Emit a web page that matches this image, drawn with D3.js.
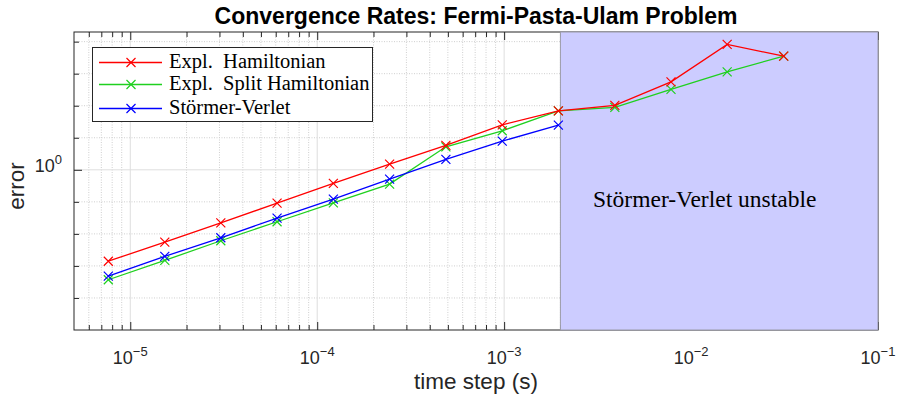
<!DOCTYPE html>
<html>
<head>
<meta charset="utf-8">
<script src="https://cdn.jsdelivr.net/npm/d3@7"></script>
<style>
  body { margin: 0; background: #fff; }
  svg { display: block; }
</style>
</head>
<body>
<div id="chart"></div>
<script>
// time steps dt = 2^-17 ... 2^-5
const timeSteps = [7.63e-6, 1.53e-5, 3.05e-5, 6.10e-5, 1.22e-4, 2.44e-4, 4.88e-4, 9.77e-4, 1.95e-3, 3.91e-3, 7.81e-3, 1.56e-2, 3.13e-2];
const errExplHam = [1.40e-3, 5.55e-3, 0.0220, 0.0914, 0.377, 1.51, 5.77, 25.3, 69.3, 102, 557, 8180, 3530];
const errSplitHam = [3.70e-4, 1.49e-3, 6.10e-3, 0.0239, 0.0933, 0.358, 5.22, 16.5, 69.3, 88.5, 323, 1143, 3530];
const errVerlet = [4.82e-4, 1.99e-3, 7.55e-3, 0.0311, 0.122, 0.513, 2.11, 7.86, 24.8];
const seriesNames = ['Expl.  Hamiltonian', 'Expl.  Split Hamiltonian', 'Störmer-Verlet'];
const unstableRange = [2e-3, 1e-1];
const xTickExps = [-5, -4, -3, -2, -1];
const yTickExps = [0];

const w = 898, h = 403;
const pLeft = 74, pRight = 878, pTop = 32, pBottom = 330;
const axisColor = '#262626';

const svg = d3.select('#chart').append('svg')
  .attr('width', w).attr('height', h);

const x = d3.scaleLog().domain([5e-6, 1e-1]).range([pLeft, pRight]);
const y = d3.scaleLog().domain([1e-5, 2e4]).range([pBottom, pTop]);

// tick values
const xMajor = xTickExps.map(e => Math.pow(10, e));
const xMinor = [6e-6, 7e-6, 8e-6, 9e-6];
for (let e = -5; e <= -2; e++) {
  for (let k = 2; k <= 9; k++) xMinor.push(k * Math.pow(10, e));
}
const yMajor = yTickExps.map(e => Math.pow(10, e));
const yMinor = d3.range(-4, 5).filter(e => e !== 0).map(e => Math.pow(10, e));

// grid
const grid = svg.append('g');
grid.selectAll('.xminor').data(xMinor).enter().append('line')
  .attr('x1', d => x(d)).attr('x2', d => x(d))
  .attr('y1', pTop).attr('y2', pBottom)
  .attr('stroke', '#cfcfcf').attr('stroke-dasharray', '1,1.5');
grid.selectAll('.yminor').data(yMinor).enter().append('line')
  .attr('x1', pLeft).attr('x2', pRight)
  .attr('y1', d => y(d)).attr('y2', d => y(d))
  .attr('stroke', '#cfcfcf').attr('stroke-dasharray', '1,1.5');
grid.selectAll('.xmajor').data(xMajor).enter().append('line')
  .attr('x1', d => x(d)).attr('x2', d => x(d))
  .attr('y1', pTop).attr('y2', pBottom)
  .attr('stroke', '#dedede');
grid.selectAll('.ymajor').data(yMajor).enter().append('line')
  .attr('x1', pLeft).attr('x2', pRight)
  .attr('y1', d => y(d)).attr('y2', d => y(d))
  .attr('stroke', '#dedede');

// axes (ticks inward, box on)
function styleAxis(g) {
  g.select('.domain').remove();
  g.selectAll('.tick line').attr('stroke', axisColor);
  g.selectAll('.tick text').remove();
}
svg.append('g').attr('transform', `translate(0,${pBottom})`)
  .call(d3.axisBottom(x).tickValues(xMinor).tickSize(-5)).call(styleAxis);
svg.append('g').attr('transform', `translate(0,${pBottom})`)
  .call(d3.axisBottom(x).tickValues(xMajor).tickSize(-8)).call(styleAxis);
svg.append('g').attr('transform', `translate(0,${pTop})`)
  .call(d3.axisTop(x).tickValues(xMinor).tickSize(-5)).call(styleAxis);
svg.append('g').attr('transform', `translate(0,${pTop})`)
  .call(d3.axisTop(x).tickValues(xMajor).tickSize(-8)).call(styleAxis);
svg.append('g').attr('transform', `translate(${pLeft},0)`)
  .call(d3.axisLeft(y).tickValues(yMinor).tickSize(-5)).call(styleAxis);
svg.append('g').attr('transform', `translate(${pLeft},0)`)
  .call(d3.axisLeft(y).tickValues(yMajor).tickSize(-8)).call(styleAxis);
svg.append('g').attr('transform', `translate(${pRight},0)`)
  .call(d3.axisRight(y).tickValues(yMinor).tickSize(-5)).call(styleAxis);
svg.append('g').attr('transform', `translate(${pRight},0)`)
  .call(d3.axisRight(y).tickValues(yMajor).tickSize(-8)).call(styleAxis);

svg.append('rect')
  .attr('x', pLeft).attr('y', pTop)
  .attr('width', pRight - pLeft).attr('height', pBottom - pTop)
  .attr('fill', 'none').attr('stroke', axisColor);

// unstable region
svg.append('rect')
  .attr('x', x(unstableRange[0])).attr('y', pTop)
  .attr('width', x(unstableRange[1]) - x(unstableRange[0]))
  .attr('height', pBottom - pTop)
  .attr('fill', '#ccccff').attr('stroke', '#9a9aa8');

svg.append('text')
  .attr('x', 593).attr('y', 207)
  .style('font-family', '"Liberation Serif", "Times New Roman", serif')
  .style('font-size', '23.5px')
  .attr('fill', '#000')
  .text('Störmer-Verlet unstable');

// tick labels with superscripts
const tickFont = '"Liberation Sans", Arial, sans-serif';
const fmtExp = e => String(e).replace('-', '\u2212');
xTickExps.forEach(e => {
  const t = svg.append('text')
    .attr('x', x(Math.pow(10, e))).attr('y', 364)
    .attr('text-anchor', 'middle')
    .style('font-family', tickFont).style('font-size', '18px')
    .attr('fill', axisColor);
  t.append('tspan').text('10');
  t.append('tspan').attr('dy', -8).style('font-size', '13px').text(fmtExp(e));
});
yTickExps.forEach(e => {
  const t = svg.append('text')
    .attr('x', 62).attr('y', y(Math.pow(10, e)) + 2)
    .attr('text-anchor', 'end')
    .style('font-family', tickFont).style('font-size', '18px')
    .attr('fill', axisColor);
  t.append('tspan').text('10');
  t.append('tspan').attr('dy', -8).style('font-size', '13px').text(fmtExp(e));
});

// series
const series = [
  { name: seriesNames[1], color: '#1fd01f', values: errSplitHam },
  { name: seriesNames[0], color: '#ff0000', values: errExplHam },
  { name: seriesNames[2], color: '#0000ff', values: errVerlet }
];
const line = d3.line().x(d => x(d[0])).y(d => y(d[1]));
const markSize = 4.5;
function cross(g, color) {
  g.append('path')
    .attr('d', `M${-markSize},${-markSize}L${markSize},${markSize}M${-markSize},${markSize}L${markSize},${-markSize}`)
    .attr('stroke', color).attr('stroke-width', 1.2).attr('fill', 'none');
}
series.forEach(s => {
  const pts = s.values.map((v, i) => [timeSteps[i], v]);
  svg.append('path').datum(pts)
    .attr('d', line)
    .attr('fill', 'none').attr('stroke', s.color).attr('stroke-width', 1.3);
  pts.forEach(p => {
    const g = svg.append('g').attr('transform', `translate(${x(p[0])},${y(p[1])})`);
    cross(g, s.color);
  });
});

// legend
const legend = svg.append('g');
legend.append('rect')
  .attr('x', 92.5).attr('y', 47.5).attr('width', 280).attr('height', 74)
  .attr('fill', '#fff').attr('stroke', axisColor);
const legendItems = [
  { name: seriesNames[0], color: '#ff0000', ly: 62.5 },
  { name: seriesNames[1], color: '#1fd01f', ly: 84.5 },
  { name: seriesNames[2], color: '#0000ff', ly: 108.5 }
];
legendItems.forEach(d => {
  legend.append('line')
    .attr('x1', 99).attr('x2', 162).attr('y1', d.ly).attr('y2', d.ly)
    .attr('stroke', d.color).attr('stroke-width', 1.3);
  const g = legend.append('g').attr('transform', `translate(131,${d.ly})`);
  cross(g, d.color);
  legend.append('text')
    .attr('x', 169).attr('y', d.ly + 5)
    .style('font-family', '"Liberation Serif", "Times New Roman", serif')
    .style('font-size', '20.5px')
    .style('white-space', 'pre')
    .attr('fill', '#000')
    .text(d.name);
});

// title and labels
svg.append('text')
  .attr('x', (pLeft + pRight) / 2).attr('y', 24)
  .attr('text-anchor', 'middle')
  .style('font-family', tickFont).style('font-size', '23px').style('font-weight', 'bold')
  .attr('fill', '#000')
  .text('Convergence Rates: Fermi-Pasta-Ulam Problem');

svg.append('text')
  .attr('x', (pLeft + pRight) / 2).attr('y', 389)
  .attr('text-anchor', 'middle')
  .style('font-family', tickFont).style('font-size', '22.5px')
  .attr('fill', axisColor)
  .text('time step (s)');

svg.append('text')
  .attr('transform', `translate(24,${(pTop + pBottom) / 2 + 5}) rotate(-90)`)
  .attr('text-anchor', 'middle')
  .style('font-family', tickFont).style('font-size', '22.5px')
  .attr('fill', axisColor)
  .text('error');
</script>
</body>
</html>
